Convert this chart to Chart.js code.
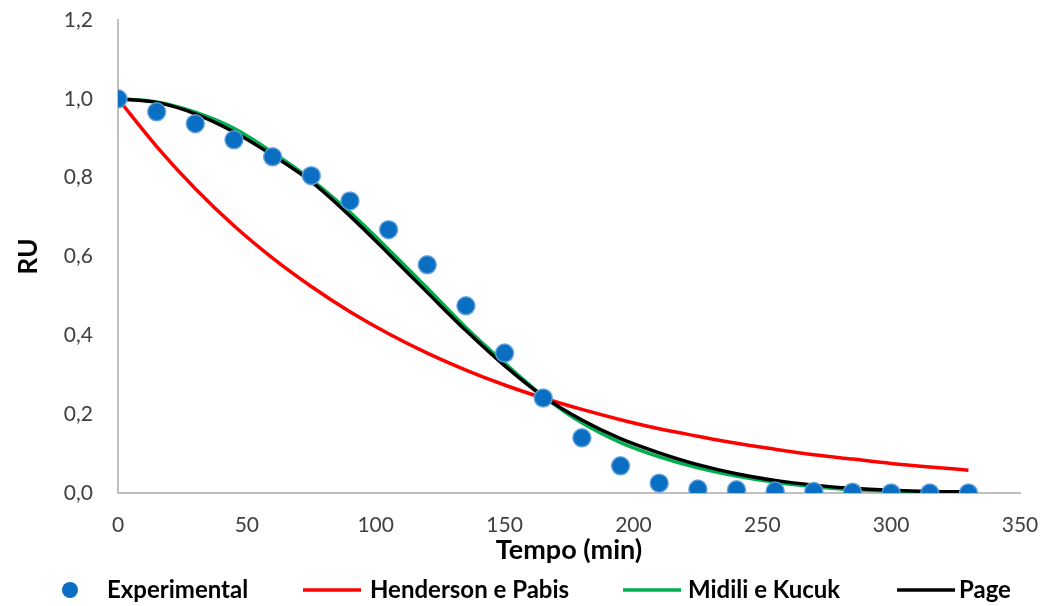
<!doctype html>
<html lang="pt">
  <head>
    <meta charset="utf-8">
    <title>RU x Tempo</title>
    <style>
      * { margin: 0; padding: 0; }
      body { background: #fff; }
      .chartBox { width: 1054px; height: 606px; }
    </style>
  </head>
  <body>
    <div class="chartBox">
      <canvas id="myChart" width="1054" height="606"></canvas>
    </div>
    <script src="https://cdn.jsdelivr.net/npm/chart.js/dist/chart.umd.min.js"></script>
    <script>
    // data
    const tempo = [0, 15, 30, 45, 60, 75, 90, 105, 120, 135, 150, 165, 180, 195, 210, 225, 240, 255, 270, 285, 300, 315, 330];
    const experimental = [1.0, 0.967, 0.937, 0.896, 0.853, 0.805, 0.741, 0.668, 0.579, 0.475, 0.355, 0.241, 0.140, 0.069, 0.025, 0.010, 0.008, 0.005, 0.004, 0.002, 0.0, 0.0, 0.0];
    const henderson = [1.0, 0.879, 0.772, 0.678, 0.596, 0.524, 0.460, 0.404, 0.355, 0.312, 0.274, 0.241, 0.212, 0.186, 0.163, 0.144, 0.126, 0.111, 0.097, 0.086, 0.075, 0.066, 0.058];
    const midili = [1.0, 0.992, 0.966, 0.925, 0.864, 0.795, 0.712, 0.618, 0.520, 0.420, 0.330, 0.246, 0.178, 0.128, 0.092, 0.064, 0.043, 0.027, 0.016, 0.009, 0.005, 0.002, 0.001];
    const page = [1.0, 0.991, 0.962, 0.916, 0.857, 0.790, 0.703, 0.607, 0.509, 0.412, 0.323, 0.245, 0.185, 0.138, 0.102, 0.072, 0.049, 0.032, 0.020, 0.012, 0.007, 0.004, 0.003];
    const seriesNames = ['Experimental', 'Henderson e Pabis', 'Midili e Kucuk', 'Page'];
    const yTicks = [0, 0.2, 0.4, 0.6, 0.8, 1.0, 1.2];
    const xTicks = [0, 50, 100, 150, 200, 250, 300, 350];

    const pts = (ys) => tempo.map((t, i) => ({ x: t, y: ys[i] }));
    const FONT = 'Lato, "Liberation Sans", sans-serif';

    const lineSet = (label, ys, color, order) => ({
      label,
      data: pts(ys),
      borderColor: color,
      backgroundColor: color,
      borderWidth: 3.5,
      pointRadius: 0,
      cubicInterpolationMode: 'monotone',
      order
    });

    const data = {
      datasets: [
        {
          label: seriesNames[0],
          data: pts(experimental),
          showLine: false,
          pointRadius: 9,
          pointBackgroundColor: '#0a6fc2',
          pointBorderColor: 'rgba(100,160,220,0.9)',
          pointBorderWidth: 1.5,
          order: 0
        },
        lineSet(seriesNames[1], henderson, '#ff0000', 3),
        lineSet(seriesNames[2], midili, '#00b050', 2),
        lineSet(seriesNames[3], page, '#000000', 1)
      ]
    };

    // legend drawn by hand so the items sit where the original puts them
    const bottomLegend = {
      id: 'bottomLegend',
      afterDraw(chart, args, opts) {
        const { ctx } = chart;
        ctx.save();
        ctx.font = 'bold 24px ' + FONT;
        ctx.textBaseline = 'middle';
        ctx.fillStyle = '#000';
        chart.data.datasets.forEach((ds, i) => {
          const x0 = opts.starts[i];
          const y = opts.y;
          if (ds.showLine === false) {
            ctx.beginPath();
            ctx.arc(x0 + 8, y, 8, 0, Math.PI * 2);
            ctx.fillStyle = ds.pointBackgroundColor;
            ctx.fill();
            ctx.fillStyle = '#000';
            ctx.fillText(ds.label, x0 + 45, y);
          } else {
            ctx.beginPath();
            ctx.lineWidth = 3.5;
            ctx.strokeStyle = ds.borderColor;
            ctx.moveTo(x0, y);
            ctx.lineTo(x0 + 58, y);
            ctx.stroke();
            ctx.fillText(ds.label, x0 + opts.gaps[i], y);
          }
        });
        ctx.restore();
      }
    };

    const config = {
      type: 'line',
      data,
      options: {
        responsive: false,
        animation: false,
        layout: { padding: { left: 0, right: 34, top: 20, bottom: 40 } },
        scales: {
          x: {
            type: 'linear',
            min: 0,
            max: 350,
            afterBuildTicks: (s) => { s.ticks = xTicks.map(v => ({ value: v })); },
            afterFit: (s) => { s.height = 73; s.paddingLeft = 0; s.paddingRight = 0; },
            grid: { display: false, drawTicks: false },
            border: { color: '#bfbfbf', width: 2 },
            ticks: { padding: 20, maxRotation: 0, color: '#404040', font: { family: FONT, size: 21 } },
            title: {
              display: true,
              text: 'Tempo (min)',
              color: '#000',
              font: { family: FONT, size: 27, weight: 'bold' },
              padding: { top: 0, bottom: 0 }
            }
          },
          y: {
            min: 0,
            max: 1.2,
            afterBuildTicks: (s) => { s.ticks = yTicks.map(v => ({ value: v })); },
            afterFit: (s) => { s.width = 118; s.paddingTop = 0; s.paddingBottom = 0; },
            grid: { display: false, drawTicks: false },
            border: { color: '#bfbfbf', width: 2 },
            ticks: {
              padding: 25,
              color: '#404040',
              font: { family: FONT, size: 21 },
              callback: (v) => v.toFixed(1).replace('.', ',')
            },
            title: {
              display: true,
              text: 'RU',
              color: '#000',
              font: { family: FONT, size: 26, weight: 'bold' },
              padding: { top: 13, bottom: 0 }
            }
          }
        },
        plugins: {
          legend: { display: false },
          tooltip: { enabled: false },
          bottomLegend: { y: 590, starts: [62, 303, 623, 897], gaps: [0, 67, 65, 62] }
        }
      },
      plugins: [bottomLegend]
    };

    const myChart = new Chart(document.getElementById('myChart'), config);
    </script>
  </body>
</html>
